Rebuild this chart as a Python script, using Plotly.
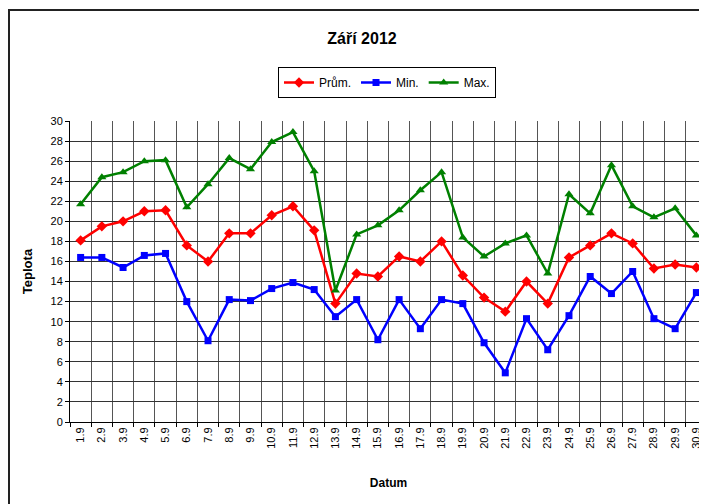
import plotly.graph_objects as go

dates = ["1.9", "2.9", "3.9", "4.9", "5.9", "6.9", "7.9", "8.9", "9.9", "10.9",
         "11.9", "12.9", "13.9", "14.9", "15.9", "16.9", "17.9", "18.9", "19.9", "20.9",
         "21.9", "22.9", "23.9", "24.9", "25.9", "26.9", "27.9", "28.9", "29.9", "30.9"]

prum = [18.1, 19.5, 20.0, 21.0, 21.1, 17.6, 16.0, 18.8, 18.8, 20.6,
        21.5, 19.1, 11.8, 14.8, 14.5, 16.5, 16.0, 18.0, 14.6, 12.4,
        11.0, 14.0, 11.8, 16.4, 17.6, 18.8, 17.8, 15.3, 15.7, 15.4]

minimum = [16.4, 16.4, 15.4, 16.6, 16.8, 12.0, 8.1, 12.2, 12.1, 13.3,
           13.9, 13.2, 10.5, 12.2, 8.2, 12.2, 9.3, 12.2, 11.8, 7.9,
           4.9, 10.3, 7.2, 10.6, 14.5, 12.8, 15.0, 10.3, 9.3, 12.9]

maximum = [21.7, 24.4, 24.9, 26.0, 26.1, 21.4, 23.7, 26.3, 25.2, 27.9,
           28.9, 25.0, 13.1, 18.7, 19.6, 21.1, 23.1, 24.9, 18.4, 16.5,
           17.8, 18.6, 14.8, 22.7, 20.8, 25.6, 21.5, 20.4, 21.3, 18.6]

yticks = list(range(0, 31, 2))

FONT = "Liberation Sans, Arial, sans-serif"

fig = go.Figure()
series = [
    ("Prům.", prum, "#FF0000", "diamond", 8),
    ("Min.", minimum, "#0000FF", "square", 7),
    ("Max.", maximum, "#008000", "triangle-up", 8),
]
for name, vals, col, sym, sz in series:
    fig.add_trace(go.Scatter(
        x=dates, y=vals, name=name, mode="lines+markers",
        line=dict(color=col, width=2.5),
        marker=dict(color=col, symbol=sym, size=sz),
    ))

# page has an 8px body margin; work in reference coords shifted by it
OFF = 8
W, H = 707 - OFF, 504 - OFF
L, R, T, B = 70 - OFF, 0, 121 - OFF, 504 - 422
pw, ph = W - L - R, H - T - B

fig.update_layout(
    width=W, height=H,
    margin=dict(l=L, r=R, t=T, b=B, autoexpand=False),
    paper_bgcolor="white", plot_bgcolor="white",
    font=dict(family=FONT, size=11, color="black"),
    title=dict(text="<b>Září 2012</b>", x=(362 - OFF) / W, xanchor="center",
               y=1 - (38 - OFF) / H, yanchor="middle", xref="container", yref="container",
               font=dict(size=16, family=FONT, color="black")),
    legend=dict(orientation="h", xref="container", yref="container",
                x=(387 - OFF) / W, xanchor="center", y=1 - (67 - OFF) / H, yanchor="top",
                bordercolor="black", borderwidth=1, bgcolor="white",
                font=dict(size=12, family=FONT), itemwidth=30,
                tracegroupgap=0, itemclick=False),
    showlegend=True,
    xaxis=dict(
        type="category", tickson="boundaries", showgrid=True,
        gridcolor="#555555", gridwidth=1, ticks="outside", ticklen=4,
        tickcolor="black", showline=True, linecolor="black", linewidth=1,
        tickangle=-90, tickfont=dict(size=11, family=FONT),
        range=[-0.5, len(dates) - 0.5],
        title=dict(text="<b>Datum</b>", font=dict(size=12, family=FONT), standoff=30),
        zeroline=False,
    ),
    yaxis=dict(
        range=[0, 30], tickvals=yticks, showgrid=True, gridcolor="#333333",
        gridwidth=1, ticks="outside", ticklen=4, tickcolor="black",
        showline=True, linecolor="black", linewidth=1, zeroline=False,
        tickfont=dict(size=11, family=FONT),
        title=dict(text="<b>Teplota</b>", font=dict(size=13, family=FONT), standoff=14),
    ),
    shapes=[dict(type="rect", xref="paper", yref="paper",
                 x0=(1 - L) / pw, x1=(W + 20 - L) / pw,
                 y0=-(H + 20 - T - ph) / ph, y1=1 + (T - (10 - OFF)) / ph,
                 line=dict(color="#222222", width=2), layer="below")],
)

fig.write_html("out.html")
